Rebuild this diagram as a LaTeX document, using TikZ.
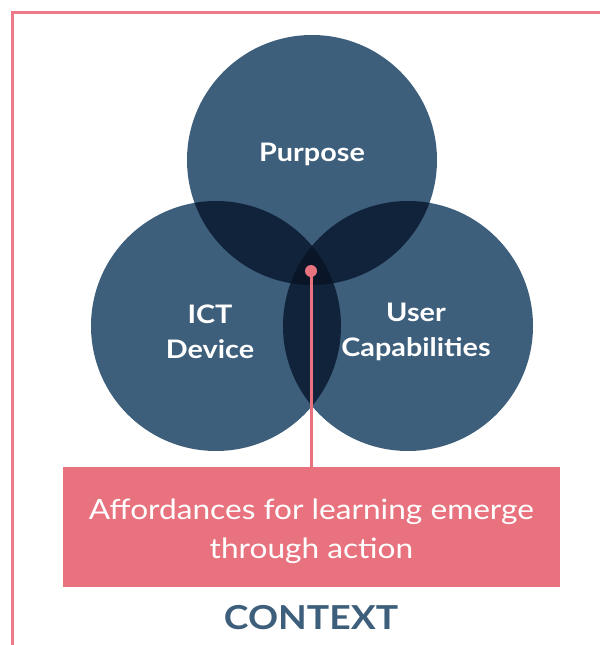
\documentclass[tikz,border=0pt]{standalone}
\usepackage{fontspec}
\setmainfont{Lato}[FakeStretch=1.13]
\usepackage{tikz}
\usetikzlibrary{positioning}

\definecolor{slate}{HTML}{3E5F7B}
\definecolor{deepslate}{HTML}{11233B}
\definecolor{nightslate}{HTML}{0A1628}
\definecolor{rose}{HTML}{E8737F}
\definecolor{framerose}{HTML}{EE7A87}

\tikzset{
  label text/.style={text=white, font=\fontsize{25.5}{35}\selectfont\bfseries, align=center},
  note box/.style={fill=rose, minimum width=497pt, minimum height=120pt, inner sep=0pt},
  note text/.style={text=white, font=\fontsize{28}{39}\selectfont, align=center},
  spot/.style={circle, fill=rose, minimum size=12pt, inner sep=0pt},
}

\begin{document}
\begin{tikzpicture}[x=1pt, y=-1pt]
      \useasboundingbox (0,0) rectangle (600,645);

      % frame
      \draw[framerose, line width=3pt] (600,12) -- (12,12) -- (12,645);

      % three sets
      \path
      (312,160) coordinate (p)
      (216,326) coordinate (i)
      (408,326) coordinate (u);
      \fill[slate] (p) circle (125) (i) circle (125) (u) circle (125);

      % pair overlaps
      \begin{scope}
        \clip (p) circle (125);
        \fill[deepslate] (i) circle (125) (u) circle (125);
      \end{scope}
      \begin{scope}
        \clip (i) circle (125);
        \fill[deepslate] (u) circle (125);
      \end{scope}
      % middle
      \begin{scope}
        \clip (p) circle (125);
        \clip (i) circle (125);
        \fill[nightslate] (u) circle (125);
      \end{scope}

      \path
      (312,154) node[label text](purpose){Purpose}
      (210,332) node[label text](ict){ICT\\Device}
      (416,332) node[label text](user){User\\Capabilities};

      \node[note box] (note) at (311.5,527) {};
      \node[note text] (notetext) at ([yshift=-4pt]note.center) {Affordances for learning emerge\\through action};
      \node[spot] (dot) at (311,271) {};
      \draw[rose, line width=3pt] (dot.center) -- (dot |- note.north);

      \node[text=slate, font=\fontsize{33}{40}\selectfont\bfseries] (context) at (311,618) {CONTEXT};
    \end{tikzpicture}
\end{document}
